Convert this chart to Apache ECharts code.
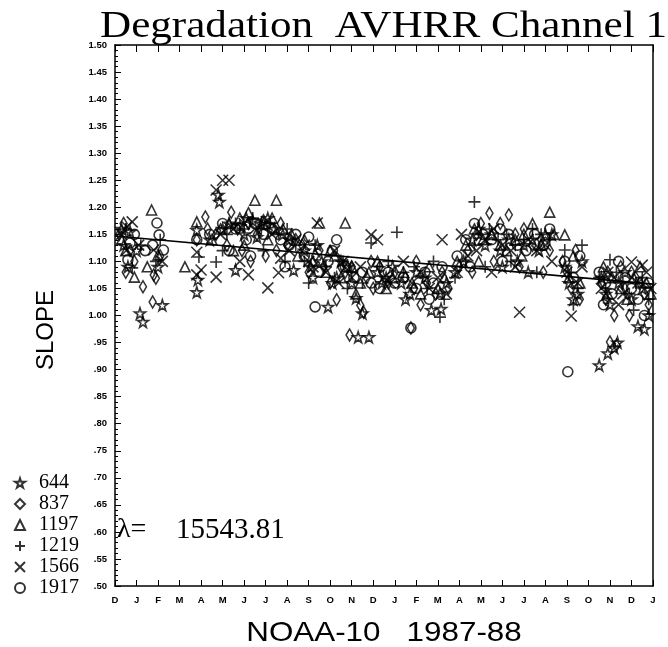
<!DOCTYPE html>
<html><head><meta charset="utf-8">
<script src="https://cdn.jsdelivr.net/npm/echarts@6/dist/echarts.min.js"></script>
<style>html,body{margin:0;padding:0;background:#fff}#c{width:668px;height:647px}</style>
</head><body><div id="c"></div>
<script>
// month tick labels (Dec 1986 .. Jan 1989)
const monthLabels = ['D','J','F','M','A','M','J','J','A','S','O','N','D','J','F','M','A','M','J','J','A','S','O','N','D','J'];
const seriesNames = ['644','837','1197','1219','1566','1917'];
// [month since Dec 1986, slope]
const s644 = [[0.7,1.155],[0.4,1.13],[0.6,1.09],[1.16,1.004],[1.3,0.988],[2.0,1.09],[2.2,1.019],[1.0,1.12],[0.3,1.16],
[3.8,1.158],[3.85,1.066],[3.8,1.043],[4.8,1.223],[4.85,1.210],[5.6,1.084],[4.4,1.14],[5.0,1.16],[5.3,1.17],[5.8,1.165],[6.1,1.18],[6.4,1.175],[6.8,1.17],[7.1,1.18],[7.4,1.16],[7.8,1.15],[8.3,1.084],[8.1,1.14],[6.0,1.15],[6.6,1.145],
[8.8,1.12],[9.1,1.09],[9.4,1.13],[9.6,1.10],[9.9,1.016],[10.3,1.07],[10.5,1.10],[10.8,1.09],[11.0,1.06],[11.2,1.032],[11.5,1.004],[11.3,0.96],[11.8,0.96],[12.2,1.08],[12.6,1.07],[12.9,1.09],[10.1,1.06],[9.2,1.07],[12.4,1.06],
[13.3,1.06],[13.7,1.04],[14.0,1.08],[14.4,1.07],[14.7,1.01],[15.15,1.012],[15.1,1.041],[15.4,1.06],[13.5,1.03],
[15.8,1.08],[16.2,1.10],[16.6,1.14],[16.9,1.16],[17.2,1.13],[17.5,1.15],[17.9,1.12],[18.3,1.14],[18.7,1.10],[19.0,1.13],[19.4,1.14],[19.7,1.12],[20.0,1.15],[20.3,1.15],[18.0,1.09],[19.2,1.08],
[20.9,1.09],[21.1,1.06],[21.3,1.03],[21.5,1.04],[21.7,1.10],
[22.5,0.908],[22.9,0.93],[23.2,0.94],[23.35,0.95],[22.8,1.04],[23.0,1.02],[23.4,1.06],[23.7,1.08],[24.0,1.03],[24.3,0.98],[24.6,0.975],[24.8,1.00],[22.6,1.07],[24.5,1.05]];
const s837 = [[0.4,1.17],[0.7,1.12],[0.9,1.10],[1.3,1.053],[1.8,1.075],[1.9,1.069],[1.75,1.025],[2.1,1.11],[0.5,1.08],[0.2,1.15],
[3.8,1.14],[4.2,1.182],[4.3,1.16],[5.4,1.191],[4.7,1.15],[5.2,1.13],[5.7,1.16],[6.2,1.17],[6.6,1.15],[6.9,1.175],[7.3,1.16],[7.7,1.17],[8.0,1.13],[8.4,1.14],[5.9,1.12],[7.0,1.11],[6.3,1.10],[7.5,1.12],
[8.7,1.13],[9.0,1.08],[9.3,1.11],[9.7,1.09],[10.0,1.06],[10.3,1.029],[10.7,1.08],[10.9,0.964],[11.0,1.09],[11.4,1.019],[11.55,1.006],[11.7,1.07],[12.0,1.05],[12.3,1.09],[12.7,1.06],[13.0,1.08],[9.5,1.12],[11.9,1.10],[10.5,1.09],
[13.5,1.07],[13.75,0.977],[13.9,1.05],[14.2,1.02],[14.5,1.06],[14.9,1.04],[15.2,1.08],[15.5,1.05],[14.0,1.10],
[16.0,1.09],[16.4,1.12],[16.8,1.15],[17.0,1.17],[17.4,1.189],[17.9,1.17],[18.3,1.186],[18.6,1.15],[19.0,1.16],[19.4,1.13],[19.8,1.14],[20.2,1.12],[17.6,1.10],[18.8,1.09],[19.9,1.08],[16.6,1.08],
[20.8,1.10],[21.0,1.08],[21.2,1.05],[21.6,1.03],[21.4,1.12],
[22.6,1.06],[22.8,1.03],[23.0,0.951],[23.3,0.945],[23.2,1.00],[23.5,1.09],[23.7,1.05],[24.0,1.08],[24.2,1.07],[24.4,1.06],[24.6,1.04],[24.8,1.02],[23.9,1.00],[22.9,1.08]];
const s1197 = [[0.5,1.12],[0.9,1.071],[1.7,1.195],[2.0,1.112],[0.3,1.14],[1.5,1.09],
[3.25,1.09],
[3.8,1.173],[4.5,1.14],[4.9,1.16],[5.3,1.17],[5.8,1.18],[6.2,1.19],[6.5,1.213],[6.9,1.17],[7.3,1.18],[7.5,1.213],[7.8,1.16],[8.2,1.15],[6.0,1.13],[7.1,1.14],[5.5,1.12],[8.5,1.11],
[8.8,1.14],[9.5,1.171],[10.7,1.171],[9.2,1.10],[9.8,1.08],[10.2,1.11],[10.5,1.07],[11.0,1.09],[11.4,1.06],[11.8,1.08],[12.2,1.10],[12.6,1.05],[12.9,1.07],[10.0,1.12],[11.2,1.04],
[13.4,1.08],[13.8,1.06],[14.2,1.04],[14.6,1.09],[15.0,1.05],[15.3,1.07],
[15.9,1.10],[16.3,1.13],[16.7,1.16],[17.1,1.14],[17.5,1.15],[17.9,1.13],[18.2,1.12],[18.6,1.14],[19.0,1.15],[19.4,1.17],[19.8,1.13],[20.2,1.191],[16.9,1.10],[18.9,1.11],[20.4,1.15],
[20.9,1.149],[21.3,1.11],[21.6,1.06],[21.1,1.07],
[22.7,1.09],[23.1,1.07],[23.5,1.05],[23.8,1.03],[24.1,1.07],[24.4,1.09],[24.7,1.06],[22.9,1.04],[24.9,1.04]];
const s1219 = [[0.8,1.088],[1.2,1.13],[1.9,1.10],[0.5,1.16],[2.1,1.14],
[3.9,1.108],[4.7,1.099],[5.2,1.15],[5.6,1.17],[6.0,1.16],[6.4,1.18],[6.8,1.16],[7.2,1.17],[7.6,1.15],[8.0,1.16],[8.4,1.13],[5.0,1.12],[6.9,1.12],[7.9,1.10],
[8.8,1.10],[9.3,1.13],[9.8,1.09],[10.2,1.07],[10.6,1.10],[11.0,1.08],[11.5,1.06],[11.9,1.134],[12.3,1.09],[12.7,1.10],[13.1,1.154],[10.8,1.05],[9.0,1.06],
[13.4,1.08],[13.9,1.09],[14.3,1.07],[14.8,1.10],[15.1,0.997],[15.3,1.03],[14.5,1.05],
[15.8,1.07],[16.3,1.10],[16.7,1.13],[16.7,1.210],[17.0,1.15],[17.4,1.16],[17.8,1.14],[18.2,1.15],[18.6,1.13],[19.0,1.14],[19.4,1.16],[19.8,1.15],[20.2,1.14],[17.2,1.09],[19.6,1.08],[18.4,1.10],
[20.9,1.121],[21.2,1.08],[21.5,1.05],[21.7,1.13],[21.3,1.02],
[22.5,1.07],[22.8,1.05],[23.0,1.103],[23.3,1.08],[23.6,1.06],[23.9,1.04],[24.2,1.06],[24.5,1.07],[24.8,1.03],[24.1,1.01]];
const s1566 = [[0.55,1.164],[0.8,1.173],[0.55,1.121],[1.8,1.121],[2.2,1.10],[0.3,1.15],[1.1,1.13],
[3.8,1.117],[3.8,1.075],[4.0,1.084],[4.7,1.232],[5.0,1.250],[5.3,1.250],[4.7,1.071],[5.8,1.10],[6.2,1.075],[7.1,1.051],[7.6,1.079],[7.7,1.106],[8.1,1.12],[5.5,1.16],[6.0,1.17],[6.5,1.16],[6.9,1.17],[7.3,1.15],[8.4,1.14],[4.9,1.15],
[8.8,1.13],[9.4,1.171],[9.0,1.10],[9.8,1.08],[10.2,1.12],[10.6,1.10],[11.0,1.07],[11.4,1.09],[11.9,1.149],[12.2,1.140],[12.5,1.07],[12.8,1.06],[10.4,1.06],[9.2,1.09],
[13.4,1.10],[13.8,1.06],[14.2,1.08],[14.6,1.05],[15.2,1.140],[15.0,1.07],[15.4,1.04],
[15.9,1.08],[16.4,1.11],[16.8,1.12],[17.2,1.14],[17.6,1.16],[18.0,1.13],[18.4,1.12],[18.8,1.006],[19.2,1.14],[19.6,1.12],[20.0,1.13],[17.5,1.08],[18.6,1.09],[20.3,1.10],[16.1,1.15],
[21.0,1.08],[21.2,0.999],[21.5,1.06],[21.7,1.09],
[22.6,1.05],[22.9,1.08],[23.2,1.07],[23.6,1.04],[24.0,1.099],[24.5,1.093],[24.3,1.06],[24.7,1.08],[23.4,1.02],[24.9,1.05]];
const s1917 = [[0.7,1.134],[0.6,1.103],[1.95,1.171],[2.05,1.149],[1.75,1.130],[2.25,1.121],[0.9,1.15],[1.4,1.12],
[3.8,1.14],[4.4,1.15],[5.0,1.17],[5.6,1.16],[6.1,1.14],[6.5,1.17],[6.9,1.15],[7.3,1.16],[7.7,1.14],[8.1,1.13],[8.4,1.15],[5.3,1.12],[6.3,1.11],[7.9,1.09],
[8.8,1.11],[9.0,1.145],[9.5,1.08],[9.9,1.10],[10.3,1.140],[10.7,1.09],[9.3,1.016],[11.1,1.07],[11.5,1.08],[11.9,1.06],[12.3,1.05],[12.7,1.08],[13.0,1.06],[10.1,1.12],
[13.4,1.07],[13.75,0.977],[14.0,1.05],[14.4,1.08],[14.8,1.06],[15.2,1.09],[14.6,1.03],
[15.9,1.11],[16.3,1.14],[16.7,1.17],[17.1,1.15],[17.5,1.14],[17.9,1.16],[18.3,1.15],[18.7,1.13],[19.1,1.12],[19.5,1.15],[19.9,1.13],[20.2,1.16],[16.5,1.09],[18.0,1.10],
[20.9,1.10],[21.04,0.896],[21.3,1.07],[21.6,1.11],
[22.5,1.08],[22.8,1.06],[23.1,1.04],[23.4,1.10],[23.7,1.07],[24.0,1.05],[24.3,1.03],[24.6,1.00],[24.8,1.06],[22.7,1.02]];
// regression line end points
const fitX = [0, 25];
const fitY = [1.147, 1.058];
// short dash at right edge
const dashX = [24.7, 25];
const dashY = [1.003, 1.003];
const lambdaLabel = 'λ=';
const lambdaValue = '15543.81';

const STAR = 'path://M50,2 L61,36 L97,36 L68,57 L79,92 L50,71 L21,92 L32,57 L3,36 L39,36 Z';
const PLUS = 'path://M5,0 L5,10 M0,5 L10,5';
const CROSS = 'path://M0,0 L10,10 M10,0 L0,10';
const symbols = [STAR, 'diamond', 'triangle', PLUS, CROSS, 'circle'];
const sizes = [11, [7, 12], 10, 12, 11, 10];
const allData = [s644, s837, s1197, s1219, s1566, s1917];

const chart = echarts.init(document.getElementById('c'), null, {renderer: 'canvas'});
const markStyle = {color: 'rgba(0,0,0,0)', borderColor: '#000', borderWidth: 1.6};
const series = allData.map((d, i) => ({
  name: seriesNames[i], type: 'scatter', data: d,
  symbol: symbols[i], symbolSize: sizes[i],
  itemStyle: markStyle, silent: true, animation: false
}));
series.push({
  name: 'fit', type: 'line', data: fitX.map((x, i) => [x, fitY[i]]),
  symbol: 'none', lineStyle: {color: '#000', width: 1.6}, animation: false, silent: true
});
series.push({
  name: 'dash', type: 'line', data: dashX.map((x, i) => [x, dashY[i]]),
  symbol: 'none', lineStyle: {color: '#000', width: 1.6}, animation: false, silent: true
});

const axisFont = {color: '#000', fontSize: 9.5, fontWeight: 'bold', fontFamily: 'Liberation Sans'};
chart.setOption({
  backgroundColor: '#fff',
  animation: false,
  grid: {left: 115, right: 15, top: 45, bottom: 61},
  legend: {
    data: seriesNames, orient: 'vertical', left: 9, top: 468,
    itemWidth: 10, itemHeight: 10, itemGap: 1,
    textStyle: {color: '#000', fontSize: 20, lineHeight: 20, fontFamily: 'Liberation Serif', padding: [0, 0, 0, 9]},
    selectedMode: false
  },
  xAxis: [{
    type: 'value', min: 0, max: 25, interval: 1, position: 'bottom',
    axisLine: {show: true, onZero: false, lineStyle: {color: '#000', width: 1.5}},
    axisTick: {show: true, inside: true, length: 6, lineStyle: {color: '#000', width: 1}},
    axisLabel: {margin: 9, formatter: v => monthLabels[Math.round(v)] || '', ...axisFont},
    splitLine: {show: false}
  }, {
    type: 'value', min: 0, max: 25, interval: 1, position: 'top',
    axisLine: {show: true, onZero: false, lineStyle: {color: '#000', width: 1.5}},
    axisTick: {show: true, inside: true, length: 7, lineStyle: {color: '#000', width: 1}},
    axisLabel: {show: false}, splitLine: {show: false}
  }],
  yAxis: [{
    type: 'value', min: 0.5, max: 1.5, interval: 0.05, position: 'left',
    axisLine: {show: true, onZero: false, lineStyle: {color: '#000', width: 1.5}},
    axisTick: {show: true, inside: true, length: 6, lineStyle: {color: '#000', width: 1}},
    minorTick: {show: true, splitNumber: 5, length: 3, lineStyle: {color: '#000', width: 1}},
    axisLabel: {margin: 8, formatter: v => { const s = v.toFixed(2); return v < 0.999 ? s.slice(1) : s; }, ...axisFont},
    splitLine: {show: false}, minorSplitLine: {show: false}
  }, {
    type: 'value', min: 0.5, max: 1.5, interval: 0.05, position: 'right',
    axisLine: {show: true, onZero: false, lineStyle: {color: '#000', width: 1.5}},
    axisTick: {show: false}, axisLabel: {show: false}, splitLine: {show: false}
  }],
  graphic: [
    {type: 'text', x: 100, y: 27, scaleX: 1.135, z: 100,
     style: {text: 'Degradation  AVHRR Channel 1', font: '38px "Liberation Serif"', fill: '#000', textAlign: 'left', textVerticalAlign: 'middle'}},
    {type: 'text', x: 46, y: 330, rotation: Math.PI / 2,
     style: {text: 'SLOPE', font: '24px "Liberation Sans"', fill: '#000', textAlign: 'center', textVerticalAlign: 'middle'}},
    {type: 'text', x: 384, y: 633, scaleX: 1.12,
     style: {text: 'NOAA-10   1987-88', font: '28px "Liberation Sans"', fill: '#000', textAlign: 'center', textVerticalAlign: 'middle'}},
    {type: 'text', x: 117, y: 530,
     style: {text: lambdaLabel, font: '28px "Liberation Serif"', fill: '#000', textAlign: 'left', textVerticalAlign: 'middle'}},
    {type: 'text', x: 176, y: 530,
     style: {text: lambdaValue, font: '29px "Liberation Serif"', fill: '#000', textAlign: 'left', textVerticalAlign: 'middle'}}
  ],
  series: series
});
</script></body></html>
